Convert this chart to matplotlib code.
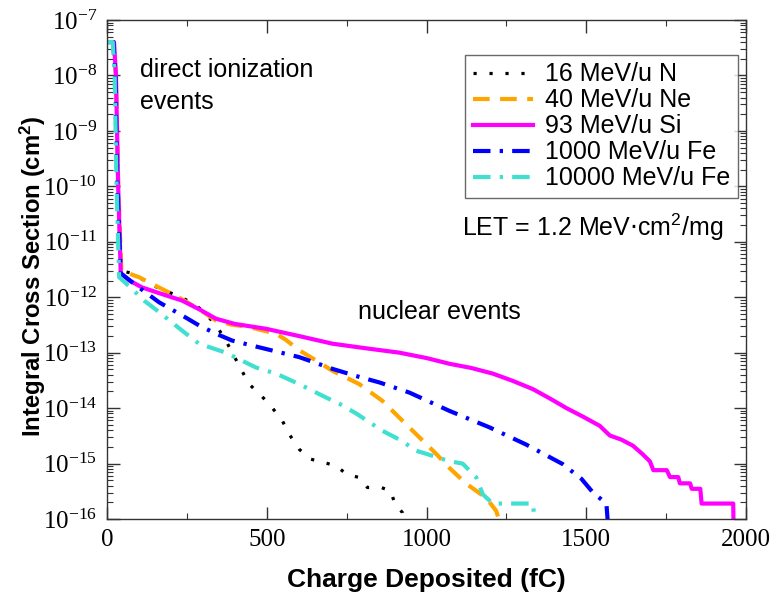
import math
import matplotlib
matplotlib.use('Agg')
import matplotlib.pyplot as plt
from matplotlib.ticker import MultipleLocator, LogLocator, FuncFormatter, NullFormatter

plt.rcParams.update({
    'font.family': 'Liberation Sans',
    'axes.linewidth': 1.0,
    'axes.edgecolor': '#333333',
})

# integral cross section vs. deposited charge, one curve per ion
n16_x = [3, 20, 28, 35, 45, 78, 147, 231, 273, 310, 345, 372, 419, 445, 482, 518, 549, 570,
         602, 638, 680, 717, 752, 790, 815, 858, 889, 900, 925, 935]
n16_y = [4e-8, 4e-8, 1e-8, 1e-10, 3e-12, 2.7e-12, 1.6e-12, 1.0e-12, 7.6e-13, 5e-13, 2.9e-13,
         1.65e-13, 5.1e-14, 2.7e-14, 1.7e-14, 1.0e-14, 5.9e-15, 3.4e-15, 1.8e-15, 1.2e-15,
         1.04e-15, 9.1e-16, 6.3e-16, 5.6e-16, 3.7e-16, 3.7e-16, 3.2e-16, 1.9e-16, 1.3e-16, 8e-17]

ne40_x = [3, 20, 28, 35, 45, 100, 140, 184, 230, 278, 341, 390, 445, 529, 560, 602, 650, 706,
          790, 862, 925, 988, 1030, 1072, 1125, 1187, 1218, 1232]
ne40_y = [4e-8, 4e-8, 1e-8, 1e-10, 3e-12, 2.3e-12, 1.75e-12, 1.3e-12, 9.5e-13, 6.6e-13, 3.8e-13,
          3.2e-13, 2.9e-13, 2.2e-13, 1.7e-13, 1.1e-13, 7.5e-14, 4.7e-14, 2.7e-14, 1.35e-14,
          5.9e-15, 2.6e-15, 1.5e-15, 8.3e-16, 4.3e-16, 2.4e-16, 1.4e-16, 8e-17]

si93_x = [3, 22, 28, 35, 43, 70, 110, 170, 235, 290, 341, 400, 497, 600, 706, 810, 915, 1000,
          1072, 1140, 1207, 1270, 1333, 1390, 1438, 1490, 1542, 1574, 1610, 1646, 1675, 1699,
          1710, 1752, 1762, 1788, 1793, 1825, 1830, 1857, 1861, 1960, 1961]
si93_y = [4e-8, 4e-8, 1e-8, 1e-10, 2.7e-12, 2.0e-12, 1.5e-12, 1.15e-12, 8.7e-13, 6.0e-13,
          4.1e-13, 3.3e-13, 2.7e-13, 2.0e-13, 1.45e-13, 1.2e-13, 1.0e-13, 8.0e-14, 6.3e-14,
          5.3e-14, 4.2e-14, 3.1e-14, 2.2e-14, 1.45e-14, 1.0e-14, 7.0e-15, 4.8e-15, 3.2e-15,
          2.7e-15, 2.1e-15, 1.5e-15, 1.1e-15, 7.6e-16, 7.6e-16, 5.7e-16, 5.7e-16, 4.4e-16,
          4.4e-16, 3.5e-16, 3.5e-16, 1.9e-16, 1.9e-16, 8e-17]

fe1000_x = [3, 20, 26, 32, 43, 100, 163, 235, 288, 341, 392, 476, 602, 706, 779, 853, 947,
            1072, 1197, 1312, 1426, 1485, 1521, 1563, 1568]
fe1000_y = [4e-8, 4e-8, 1e-8, 1e-10, 2.7e-12, 1.5e-12, 8.1e-13, 4.7e-13, 3.1e-13, 2.2e-13,
            1.65e-13, 1.25e-13, 8.3e-14, 5.1e-14, 3.8e-14, 2.9e-14, 1.9e-14, 8.9e-15, 4.5e-15,
            2.2e-15, 9.8e-16, 5.3e-16, 3.0e-16, 1.9e-16, 8e-17]

fe10000_x = [3, 18, 24, 30, 38, 79, 116, 163, 235, 288, 372, 466, 529, 602, 686, 727, 780, 862,
             921, 968, 999, 1072, 1113, 1156, 1176, 1207, 1333, 1340]
fe10000_y = [4e-8, 4e-8, 1e-8, 1e-10, 2.3e-12, 1.4e-12, 8.7e-13, 5.4e-13, 2.5e-13, 1.45e-13,
             1.0e-13, 5.4e-14, 4.2e-14, 2.7e-14, 1.55e-14, 1.2e-14, 8e-15, 3.9e-15, 2.6e-15,
             1.7e-15, 1.5e-15, 1.1e-15, 1.0e-15, 5.6e-16, 2.8e-16, 1.9e-16, 1.9e-16, 8e-17]

labels = ['16 MeV/u N', '40 MeV/u Ne', '93 MeV/u Si', '1000 MeV/u Fe', '10000 MeV/u Fe']

fig = plt.figure(figsize=(7.75, 5.96), dpi=100)
ax = fig.add_axes([107/775, 1 - 519/596, 639/775, 499/596])

lw = 3.0
ax.plot(n16_x, n16_y, color='black', lw=2.3, ls=(0, (1, 4)), label=labels[0])
ax.plot(ne40_x, ne40_y, color='#FFA500', lw=lw, ls=(0, (4, 2.5)), label=labels[1])
ax.plot(si93_x, si93_y, color='#FF00FF', lw=lw, ls='-', label=labels[2])
ax.plot(fe1000_x, fe1000_y, color='#0000FF', lw=lw, ls=(0, (4.2, 2.2, 0.8, 2.2)), label=labels[3])
ax.plot(fe10000_x, fe10000_y, color='#40E0D0', lw=lw, ls=(0, (4.2, 2.2, 0.8, 2.2)), label=labels[4])

ax.set_yscale('log')
ax.set_xlim(0, 2000)
ax.set_ylim(1e-16, 1e-7)

ax.xaxis.set_major_locator(MultipleLocator(500))
ax.xaxis.set_minor_locator(MultipleLocator(250))
ax.yaxis.set_major_locator(LogLocator(base=10, numticks=20))
ax.yaxis.set_minor_locator(LogLocator(base=10, subs=range(2, 10), numticks=20))
ax.yaxis.set_minor_formatter(NullFormatter())
ax.yaxis.set_major_formatter(FuncFormatter(lambda v, p: r'$\mathregular{10^{%d}}$' % round(math.log10(v))))

ax.tick_params(which='both', direction='in', top=True, right=True, color='#333333')
ax.tick_params(which='major', length=9, width=1.0, pad=7, labelsize=18)
ax.tick_params(which='minor', length=4.5, width=0.8)
for t in ax.get_xticklabels() + ax.get_yticklabels():
    t.set_fontfamily('Liberation Serif')

ax.set_xlabel('Charge Deposited (fC)', fontsize=19, fontweight='bold', va='center')
ax.set_ylabel(r'Integral Cross Section (cm$\mathregular{^2}$)', fontsize=17.2, fontweight='bold',
              va='center')
ax.xaxis.set_label_coords(0.5, -0.122)
ax.yaxis.set_label_coords(-0.116, 0.487)

ax.text(0.052, 0.868, 'direct ionization\nevents', transform=ax.transAxes, fontsize=18,
        va='center', ha='left', linespacing=1.4)
ax.text(0.393, 0.415, 'nuclear events', transform=ax.transAxes, fontsize=18, va='center', ha='left')
ax.text(0.556, 0.585, r'LET = 1.2 MeV$\cdot$cm$^{\mathregular{2}}$/mg', transform=ax.transAxes,
        fontsize=18, va='center', ha='left')

leg = ax.legend(loc='upper right', bbox_to_anchor=(0.9875, 0.930), borderaxespad=0,
                fontsize=18, frameon=True, fancybox=False, handlelength=2.4,
                handletextpad=0.5, labelspacing=0.08, borderpad=0.3)
leg.get_frame().set_edgecolor('#444444')
leg.get_frame().set_linewidth(1.0)

fig.savefig('out.png', dpi=100)
